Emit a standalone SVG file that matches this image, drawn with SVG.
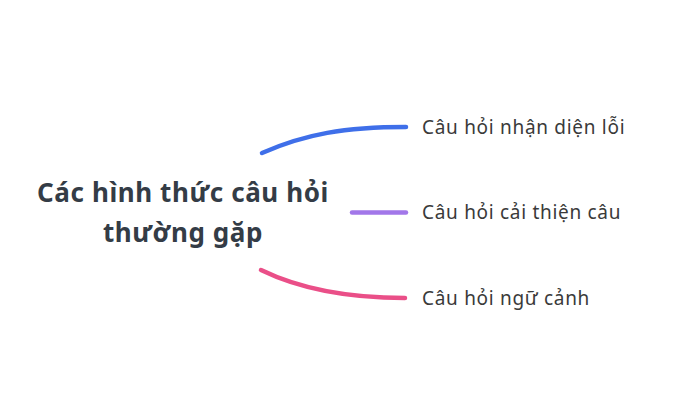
<svg xmlns="http://www.w3.org/2000/svg" width="700" height="411" viewBox="0 0 700 411">
<style>
.root{font-family:"Noto Sans","Open Sans",sans-serif;font-weight:700;font-size:26px;letter-spacing:0.6px;fill:#343c46;text-anchor:middle}
.leaf{font-family:"Noto Sans","Open Sans",sans-serif;font-size:19px;letter-spacing:0.7px;fill:#3a3a3a}
.edge{fill:none;stroke-width:4.5;stroke-linecap:round}
</style>
<rect width="700" height="411" fill="#ffffff"/>
<g id="connectors">
<path class="edge" stroke="#3f6fe9" d="M262,153 C305,134 345,127 406,127"/>
<path class="edge" stroke="#a277e9" d="M352,212.5 L406,212.5"/>
<path class="edge" stroke="#ea4f88" d="M261,270 C300,289 345,298 405,298"/>
</g>
<g id="root">
<text class="root" x="183" y="202">Các hình thức câu hỏi</text>
<text class="root" x="183" y="242">thường gặp</text>
</g>
<g id="n1"><text class="leaf" x="422" y="134">Câu hỏi nhận diện lỗi</text></g>
<g id="n2"><text class="leaf" x="422" y="219">Câu hỏi cải thiện câu</text></g>
<g id="n3"><text class="leaf" x="422" y="305">Câu hỏi ngữ cảnh</text></g>
</svg>
